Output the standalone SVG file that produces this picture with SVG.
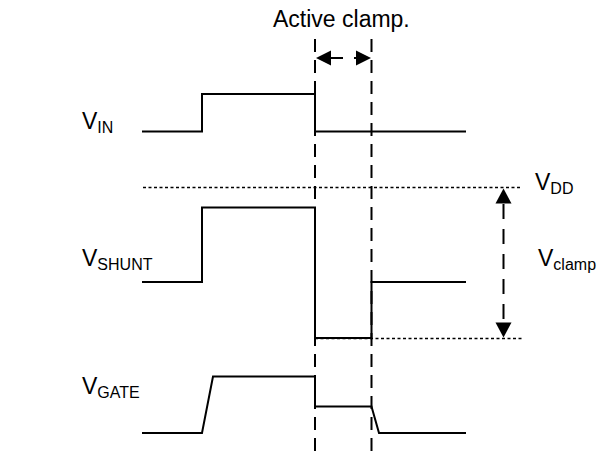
<svg xmlns="http://www.w3.org/2000/svg" width="606" height="452" viewBox="0 0 606 452">
<style>
.sig{fill:none;stroke:#000;stroke-width:2;stroke-linejoin:miter}
.dash{fill:none;stroke:#000;stroke-width:2;stroke-dasharray:13 8}
.dot{fill:none;stroke:#000;stroke-width:1.5;stroke-dasharray:3 2.5}
.t{font-family:"Liberation Sans",Arial,sans-serif;font-size:23px;fill:#000}
.s{font-size:16px}
.ah{fill:#000;stroke:none}
</style>
<rect width="606" height="452" fill="#fff"/>
<g id="title"><text class="t" x="273" y="27">Active clamp.</text></g>
<g id="labels">
<text class="t" x="82" y="129">V<tspan class="s" dy="4">IN</tspan></text>
<text class="t" x="82" y="266">V<tspan class="s" dy="4">SHUNT</tspan></text>
<text class="t" x="82" y="394">V<tspan class="s" dy="4">GATE</tspan></text>
<text class="t" x="535" y="190">V<tspan class="s" dy="4">DD</tspan></text>
<text class="t" x="538" y="266">V<tspan class="s" dy="4">clamp</tspan></text>
</g>
<g id="signals">
<path id="vin" class="sig" d="M142 131.5H202V94H315V131.5H466"/>
<path id="vshunt" class="sig" d="M142 282H202V207.5H315V338H371.5V282H466"/>
<path id="vgate" class="sig" d="M142 433H202L213 376.5H315V406.5H371.5L379 433H466"/>
</g>
<g id="connectors">
<line class="dash" x1="315" y1="39" x2="315" y2="452"/>
<line class="dash" x1="371.5" y1="39" x2="371.5" y2="452"/>
<line class="dot" x1="143" y1="187.5" x2="522" y2="187.5"/>
<line class="dot" x1="315" y1="338.5" x2="522" y2="338.5"/>
<line x1="328" y1="58" x2="343" y2="58" stroke="#000" stroke-width="2"/>
<line x1="354" y1="58" x2="360" y2="58" stroke="#000" stroke-width="2"/>
<polygon class="ah" points="316,58 331,50.5 331,65.5"/>
<polygon class="ah" points="371,58 356,50.5 356,65.5"/>
<line class="dash" x1="503.5" y1="200" x2="503.5" y2="326" style="stroke-dasharray:15 10;stroke-dashoffset:-4"/>
<polygon class="ah" points="503.5,188.5 495.5,203.5 511.5,203.5"/>
<polygon class="ah" points="503.5,337.5 495.5,322.5 511.5,322.5"/>
</g>
</svg>
